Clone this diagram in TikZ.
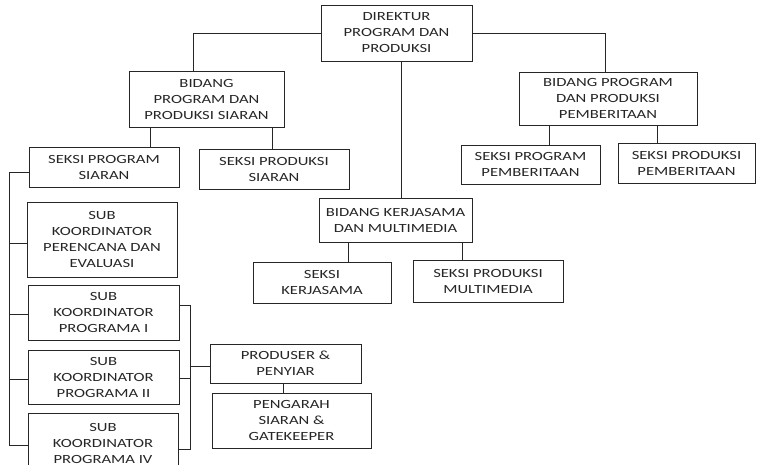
\documentclass[tikz,border=0pt]{standalone}
\usepackage{fontspec}
\setmainfont{Carlito}[FakeStretch=1.33]
\begin{document}
\begin{tikzpicture}[x=1pt,y=-1pt,
  box/.style={draw=black!85, line width=0.9pt, inner sep=0pt, align=center,
    font=\fontsize{12.5}{16}\selectfont, text=black!85},
  ln/.style={draw=black!85, line width=0.8pt}]
\useasboundingbox (0,0) rectangle (757,465);
\clip (0,0) rectangle (757,465);
\node[box, minimum width=151pt, minimum height=56pt] (dir) at (396.5,33) {DIREKTUR\\PROGRAM DAN\\PRODUKSI};
\node[box, minimum width=155pt, minimum height=56pt] (bps) at (206.5,99) {BIDANG\\PROGRAM DAN\\PRODUKSI SIARAN};
\node[box, minimum width=178pt, minimum height=53pt] (bpp) at (608,98.5) {BIDANG PROGRAM\\DAN PRODUKSI\\PEMBERITAAN};
\node[box, minimum width=139pt, minimum height=39pt] (spp) at (530.5,164.5) {SEKSI PROGRAM\\PEMBERITAAN};
\node[box, minimum width=137pt, minimum height=40pt] (spd) at (686.5,163) {SEKSI PRODUKSI\\PEMBERITAAN};
\node[box, minimum width=150pt, minimum height=40pt] (sps) at (104,167) {SEKSI PROGRAM\\SIARAN};
\node[box, minimum width=150pt, minimum height=40pt] (sds) at (274,169) {SEKSI PRODUKSI\\SIARAN};
\node[box, minimum width=153pt, minimum height=44pt] (bk) at (395.5,220) {BIDANG KERJASAMA\\DAN MULTIMEDIA};
\node[box, minimum width=138pt, minimum height=41pt] (sk) at (322,282.5) {SEKSI\\KERJASAMA};
\node[box, minimum width=150pt, minimum height=42pt] (sm) at (488,281) {SEKSI PRODUKSI\\MULTIMEDIA};
\node[box, minimum width=150pt, minimum height=75pt] (pe) at (102,239.5) {SUB\\KOORDINATOR\\PERENCANA DAN\\EVALUASI};
\node[box, minimum width=151pt, minimum height=55pt] (p1) at (103.5,312.5) {SUB\\KOORDINATOR\\PROGRAMA I};
\node[box, minimum width=151pt, minimum height=54pt] (p2) at (103.5,377) {SUB\\KOORDINATOR\\PROGRAMA II};
\node[box, minimum width=150pt, minimum height=60pt] (p4) at (103,443) {SUB\\KOORDINATOR\\PROGRAMA IV};
\node[box, minimum width=151pt, minimum height=39pt] (pr) at (285.5,363.5) {PRODUSER \&\\PENYIAR};
\node[box, minimum width=159pt, minimum height=55pt] (pg) at (291.5,420.5) {PENGARAH\\SIARAN \&\\GATEKEEPER};
% connectors
\draw[ln] (dir.west) -| (bps.north -| 193,0);
\draw[ln] (dir.east) -| (bpp.north -| 605,0);
\draw[ln] (dir.south -| 401,0) -- (bk.north -| 401,0);
\draw[ln] (bps.south -| 150,0) -- (sps.north -| 150,0);
\draw[ln] (bps.south -| 272,0) -- (sds.north -| 272,0);
\draw[ln] (bpp.south -| 549,0) -- (spp.north -| 549,0);
\draw[ln] (bpp.south -| 657,0) -- (spd.north -| 657,0);
\draw[ln] (bk.south -| 348,0) -- (sk.north -| 348,0);
\draw[ln] (bk.south -| 462,0) -- (sm.north -| 462,0);
\draw[ln] (sps.west |- 0,172) -- (9,172) -- (9,445) -- (p4.west |- 0,445);
\draw[ln] (9,243) -- (pe.west |- 0,243);
\draw[ln] (9,314) -- (p1.west |- 0,314);
\draw[ln] (9,379) -- (p2.west |- 0,379);
\draw[ln] (p1.east |- 0,305) -- (190,305) -- (190,449) -- (p4.east |- 0,449);
\draw[ln] (p2.east |- 0,378) -- (190,378);
\draw[ln] (190,366) -- (pr.west |- 0,366);
\draw[ln] (pr.south -| 283,0) -- (pg.north -| 283,0);
\end{tikzpicture}
\end{document}
